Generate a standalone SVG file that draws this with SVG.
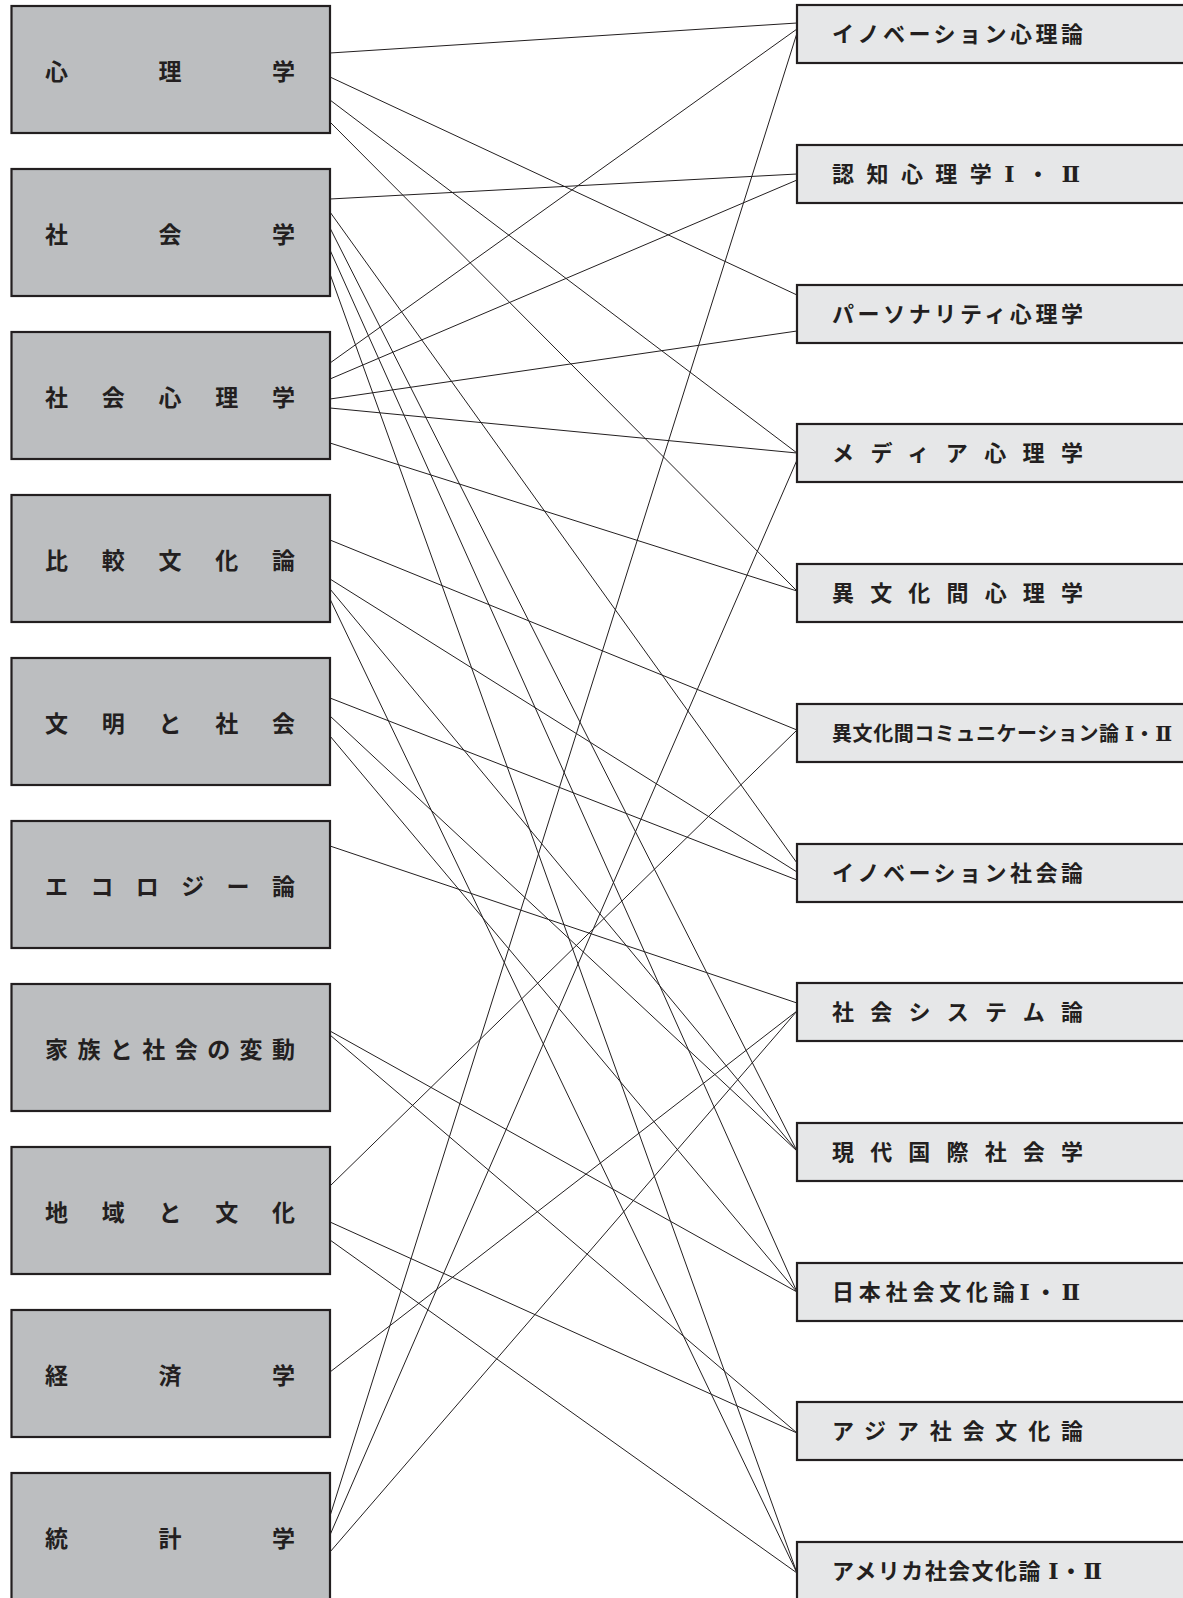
<svg xmlns="http://www.w3.org/2000/svg" width="1183" height="1598" viewBox="0 0 1183 1598">
<style>
.lb{fill:#bcbec0;stroke:#231f20;stroke-width:2.2}
.rb{fill:#e6e7e8;stroke:#231f20;stroke-width:2.2}
.lt{font-family:"Noto Sans CJK JP","Noto Sans CJK SC",sans-serif;font-size:23px;font-weight:700;fill:#231f20}
.rt{font-family:"Noto Sans CJK JP","Noto Sans CJK SC",sans-serif;font-size:22px;font-weight:700;fill:#231f20}
.rs{font-size:20px}
.rn{font-family:"DejaVu Serif","Liberation Serif",serif;font-weight:700}
#connectors line{stroke:#231f20;stroke-width:1}
</style>
<rect width="1183" height="1598" fill="#ffffff"/>
<g id="connectors">
<line x1="330" y1="53" x2="797" y2="23"/>
<line x1="330" y1="77" x2="797" y2="295"/>
<line x1="330" y1="100" x2="797" y2="453"/>
<line x1="330" y1="122" x2="797" y2="591"/>
<line x1="330" y1="199" x2="797" y2="174"/>
<line x1="330" y1="212" x2="797" y2="863"/>
<line x1="330" y1="228" x2="797" y2="1151"/>
<line x1="330" y1="250" x2="797" y2="1292"/>
<line x1="330" y1="274" x2="797" y2="1573"/>
<line x1="330" y1="363" x2="797" y2="29"/>
<line x1="330" y1="379" x2="797" y2="180"/>
<line x1="330" y1="399" x2="797" y2="331"/>
<line x1="330" y1="408" x2="797" y2="453"/>
<line x1="330" y1="443" x2="797" y2="591"/>
<line x1="330" y1="540" x2="797" y2="730"/>
<line x1="330" y1="579" x2="797" y2="872"/>
<line x1="330" y1="589" x2="797" y2="1151"/>
<line x1="330" y1="599" x2="797" y2="1573"/>
<line x1="330" y1="698" x2="797" y2="880"/>
<line x1="330" y1="716" x2="797" y2="1151"/>
<line x1="330" y1="736" x2="797" y2="1292"/>
<line x1="330" y1="846" x2="797" y2="1003"/>
<line x1="330" y1="1031" x2="797" y2="1292"/>
<line x1="330" y1="1035" x2="797" y2="1433"/>
<line x1="330" y1="1186" x2="797" y2="730"/>
<line x1="330" y1="1222" x2="797" y2="1433"/>
<line x1="330" y1="1240" x2="797" y2="1573"/>
<line x1="330" y1="1372" x2="797" y2="1011"/>
<line x1="330" y1="1516" x2="797" y2="33"/>
<line x1="330" y1="1535" x2="797" y2="460"/>
<line x1="330" y1="1552" x2="797" y2="1011"/>
</g>
<g id="L1"><rect class="lb" x="11.5" y="6" width="318.5" height="127"/><text class="lt" x="45 158.5 272" y="80">心理学</text></g>
<g id="L2"><rect class="lb" x="11.5" y="169" width="318.5" height="127"/><text class="lt" x="45 158.5 272" y="243">社会学</text></g>
<g id="L3"><rect class="lb" x="11.5" y="332" width="318.5" height="127"/><text class="lt" x="45 101.75 158.5 215.25 272" y="406">社会心理学</text></g>
<g id="L4"><rect class="lb" x="11.5" y="495" width="318.5" height="127"/><text class="lt" x="45 101.75 158.5 215.25 272" y="569">比較文化論</text></g>
<g id="L5"><rect class="lb" x="11.5" y="658" width="318.5" height="127"/><text class="lt" x="45 101.75 158.5 215.25 272" y="732">文明と社会</text></g>
<g id="L6"><rect class="lb" x="11.5" y="821" width="318.5" height="127"/><text class="lt" x="45 90.4 135.8 181.2 226.6 272" y="895">エコロジー論</text></g>
<g id="L7"><rect class="lb" x="11.5" y="984" width="318.5" height="127"/><text class="lt" x="45 77.43 109.86 142.29 174.71 207.14 239.57 272" y="1058">家族と社会の変動</text></g>
<g id="L8"><rect class="lb" x="11.5" y="1147" width="318.5" height="127"/><text class="lt" x="45 101.75 158.5 215.25 272" y="1221">地域と文化</text></g>
<g id="L9"><rect class="lb" x="11.5" y="1310" width="318.5" height="127"/><text class="lt" x="45 158.5 272" y="1384">経済学</text></g>
<g id="L10"><rect class="lb" x="11.5" y="1473" width="318.5" height="127"/><text class="lt" x="45 158.5 272" y="1547">統計学</text></g>
<g id="R1"><rect class="rb" x="797" y="5" width="400" height="58"/><text class="rt" x="832" y="42" textLength="251" lengthAdjust="spacing">イノベーション心理論</text></g>
<g id="R2"><rect class="rb" x="797" y="145" width="400" height="58"/><text class="rt" x="832" y="182" textLength="248" lengthAdjust="spacing">認知心理学<tspan class="rn">Ⅰ</tspan>・<tspan class="rn">Ⅱ</tspan></text></g>
<g id="R3"><rect class="rb" x="797" y="285" width="400" height="58"/><text class="rt" x="832" y="322" textLength="251" lengthAdjust="spacing">パーソナリティ心理学</text></g>
<g id="R4"><rect class="rb" x="797" y="424" width="400" height="58"/><text class="rt" x="832" y="461" textLength="251" lengthAdjust="spacing">メディア心理学</text></g>
<g id="R5"><rect class="rb" x="797" y="564" width="400" height="58"/><text class="rt" x="832" y="601" textLength="251" lengthAdjust="spacing">異文化間心理学</text></g>
<g id="R6"><rect class="rb" x="797" y="704" width="400" height="58"/><text class="rt rs" x="832" y="741" textLength="340" lengthAdjust="spacing">異文化間コミュニケーション論 <tspan class="rn">Ⅰ</tspan>・<tspan class="rn">Ⅱ</tspan></text></g>
<g id="R7"><rect class="rb" x="797" y="844" width="400" height="58"/><text class="rt" x="832" y="881" textLength="251" lengthAdjust="spacing">イノベーション社会論</text></g>
<g id="R8"><rect class="rb" x="797" y="983" width="400" height="58"/><text class="rt" x="832" y="1020" textLength="251" lengthAdjust="spacing">社会システム論</text></g>
<g id="R9"><rect class="rb" x="797" y="1123" width="400" height="58"/><text class="rt" x="832" y="1160" textLength="251" lengthAdjust="spacing">現代国際社会学</text></g>
<g id="R10"><rect class="rb" x="797" y="1263" width="400" height="58"/><text class="rt" x="832" y="1300" textLength="248" lengthAdjust="spacing">日本社会文化論<tspan class="rn">Ⅰ</tspan>・<tspan class="rn">Ⅱ</tspan></text></g>
<g id="R11"><rect class="rb" x="797" y="1402" width="400" height="58"/><text class="rt" x="832" y="1439" textLength="251" lengthAdjust="spacing">アジア社会文化論</text></g>
<g id="R12"><rect class="rb" x="797" y="1542" width="400" height="58"/><text class="rt" x="832" y="1579" textLength="270" lengthAdjust="spacing">アメリカ社会文化論 <tspan class="rn">Ⅰ</tspan>・<tspan class="rn">Ⅱ</tspan></text></g>
</svg>
